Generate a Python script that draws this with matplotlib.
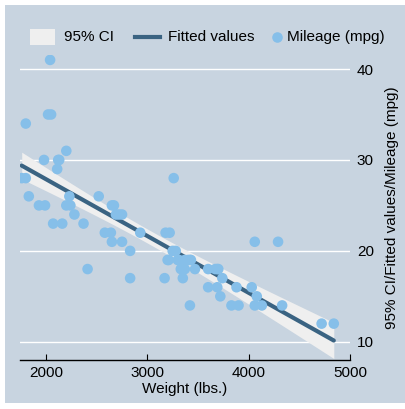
import numpy as np
import matplotlib
matplotlib.use("Agg")
import matplotlib.pyplot as plt
from matplotlib.patches import Rectangle
from matplotlib.lines import Line2D

plt.rcParams['font.family'] = ['Liberation Sans', 'DejaVu Sans']

weight = [2930, 3350, 2640, 3250, 4080, 3670, 2230, 3280, 3880, 3400,
          4330, 3900, 4290, 2110, 3690, 3180, 3220, 2750, 3430, 2120,
          3600, 3600, 3740, 1800, 2650, 4840, 4720, 3830, 2580, 4060,
          3720, 3370, 4130, 2830, 4060, 3310, 3300, 3690, 3370, 2720,
          4030, 3260, 1800, 2200, 2520, 3330, 3700, 3470, 3210, 3200,
          3420, 2690, 2830, 2070, 2650, 2370, 2020, 2280, 2750, 2130,
          2240, 1760, 1980, 3420, 1830, 2050, 2410, 2200, 2670, 2160,
          2040, 1930, 1990, 3170]
mpg = [22, 17, 22, 20, 15, 18, 26, 20, 16, 19,
       14, 14, 21, 29, 16, 22, 22, 24, 19, 30,
       18, 16, 17, 28, 21, 12, 12, 14, 22, 14,
       15, 18, 14, 20, 21, 19, 19, 18, 19, 24,
       16, 28, 34, 25, 26, 18, 18, 18, 19, 19,
       19, 24, 17, 23, 25, 23, 35, 24, 21, 30,
       25, 28, 30, 14, 26, 35, 18, 31, 25, 23,
       41, 25, 25, 17]

x_ticks = [2000, 3000, 4000, 5000]
y_ticks = [10, 20, 30, 40]
legend_labels = ['95% CI', 'Fitted values', 'Mileage (mpg)']

BG = '#c8d4e0'
DOT = '#86bfe9'
LINE = '#3a6382'
CI = '#efefef'
FS = 11

x = np.array(weight, float)
y = np.array(mpg, float)
n = len(x)
b1, b0 = np.polyfit(x, y, 1)
resid = y - (b0 + b1 * x)
s = np.sqrt(np.sum(resid ** 2) / (n - 2))
sxx = np.sum((x - x.mean()) ** 2)
xg = np.linspace(x.min(), x.max(), 200)
yg = b0 + b1 * xg
se = s * np.sqrt(1 / n + (xg - x.mean()) ** 2 / sxx)
tval = 1.993
lo, hi = yg - tval * se, yg + tval * se

W, H = 406, 409
fig = plt.figure(figsize=(W / 100, H / 100), dpi=100)
fig.patch.set_facecolor('white')
bgax = fig.add_axes([5 / W, 1 - 403 / H, (W - 5) / W, 398 / H], zorder=-5)
bgax.set_facecolor(BG)
bgax.set_xticks([]); bgax.set_yticks([])
for sp in bgax.spines.values():
    sp.set_visible(False)

ax = fig.add_axes([20 / W, 1 - 360 / H, 330 / W, 305 / H])
ax.set_facecolor('none')
ax.set_xlim(1743, 5000)
ax.set_ylim(8.0, 41.54)

ax.fill_between(xg, lo, hi, color=CI, lw=0, zorder=2)
ax.plot(xg, yg, color=LINE, lw=3.0, solid_capstyle='round', zorder=3)
ax.scatter(x, y, s=58, color=DOT, edgecolors='none', zorder=4)

for t in y_ticks:
    ax.axhline(t, color='white', lw=1.0, zorder=1)

ax.yaxis.tick_right()
ax.yaxis.set_label_position('right')
ax.set_yticks(y_ticks)
ax.set_xticks(x_ticks)
ax.tick_params(axis='y', length=0, pad=5, labelsize=FS, colors='black')
ax.tick_params(axis='x', direction='in', length=4, width=0.8, pad=4, labelsize=FS)
for sp in ['top', 'left', 'right']:
    ax.spines[sp].set_visible(False)
ax.spines['bottom'].set_linewidth(1.0)
ax.spines['bottom'].set_color('black')

ax.set_xlabel('Weight (lbs.)', fontsize=FS, labelpad=2)
ax.set_ylabel('95% CI/Fitted values/Mileage (mpg)', fontsize=FS, labelpad=8)

# legend drawn in pixel coords of the figure
def fx(px):
    return px / W

def fy(py):
    return 1 - py / H

ly = 37
fig.patches.append(Rectangle((fx(30), fy(45)), 25 / W, 16 / H, transform=fig.transFigure,
                             facecolor=CI, edgecolor='none'))
fig.lines.append(Line2D([fx(135), fx(160)], [fy(ly), fy(ly)], transform=fig.transFigure,
                        color=LINE, lw=3.0))
fig.lines.append(Line2D([fx(277)], [fy(ly)], transform=fig.transFigure, marker='o',
                        ls='none', color=DOT, markersize=7.6, markeredgewidth=0))
fig.text(fx(64), fy(ly), legend_labels[0], fontsize=FS, va='center', ha='left')
fig.text(fx(168), fy(ly), legend_labels[1], fontsize=FS, va='center', ha='left')
fig.text(fx(287), fy(ly), legend_labels[2], fontsize=FS, va='center', ha='left')

fig.savefig('out.png', dpi=100, facecolor=fig.get_facecolor())
